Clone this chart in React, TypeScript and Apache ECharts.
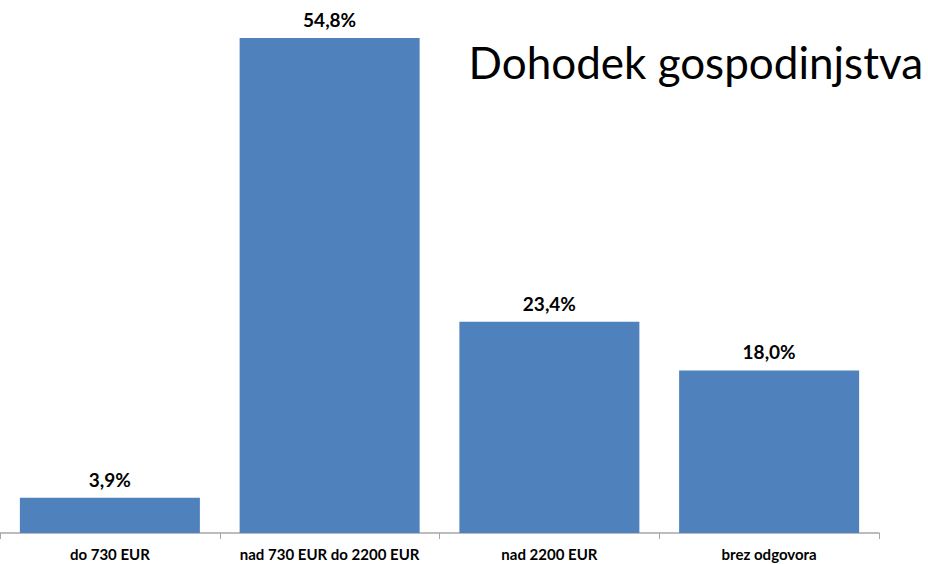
import React, { useEffect, useRef } from "react";
import * as echarts from "echarts";

const categories = ["do 730 EUR", "nad 730 EUR do 2200 EUR", "nad 2200 EUR", "brez odgovora"];
const values = [3.9, 54.8, 23.4, 18.0];
const titleText = "Dohodek gospodinjstva";

export default function App() {
  const ref = useRef<HTMLDivElement>(null);
  useEffect(() => {
    const chart = echarts.init(ref.current!, null, { renderer: "svg" });
    chart.setOption({
      animation: false,
      title: {
        text: titleText,
        right: 0,
        top: 35,
        textStyle: { fontFamily: "Lato", fontWeight: "normal", fontSize: 44, color: "#000" },
      },
      grid: { left: 0, top: 38, width: 879, bottom: 31, containLabel: false },
      xAxis: {
        type: "category",
        data: categories,
        axisLine: { lineStyle: { color: "#A6A6A6", width: 1.5 } },
        axisTick: { show: true, length: 6, lineStyle: { color: "#A6A6A6" } },
        axisLabel: {
          interval: 0,
          fontFamily: "Lato",
          fontWeight: "bold",
          fontSize: 15,
          color: "#000",
          margin: 13,
        },
      },
      yAxis: {
        type: "value",
        min: 0,
        max: 54.8,
        show: false,
        splitLine: { show: false },
      },
      series: [
        {
          type: "bar",
          data: values,
          barWidth: 180,
          itemStyle: { color: "#4F81BD" },
          label: {
            show: true,
            position: "top",
            distance: 9,
            fontFamily: "Lato",
            fontWeight: "bold",
            fontSize: 19,
            color: "#000",
            formatter: (p: any) => p.value.toFixed(1).replace(".", ",") + "%",
          },
        },
      ],
    });
    return () => chart.dispose();
  }, []);
  return <div ref={ref} style={{ width: 928, height: 564, position: "fixed", left: 0, top: 0, background: "#fff" }} />;
}
